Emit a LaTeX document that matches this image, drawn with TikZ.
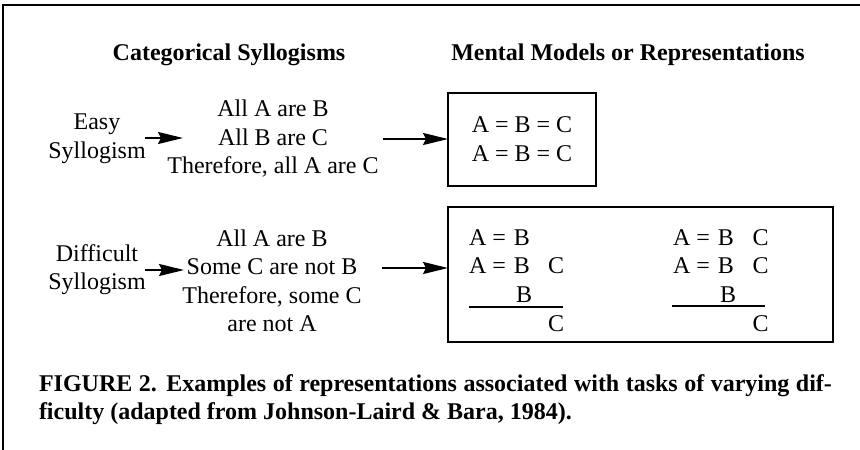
\documentclass[tikz,border=0pt]{standalone}
\usepackage{fontspec}
\setmainfont{Liberation Serif}
\usetikzlibrary{arrows.meta}
\begin{document}
\begin{tikzpicture}[x=1pt,y=-1pt,
  every node/.style={inner sep=0pt,outer sep=0pt,font=\fontsize{24}{28.5}\selectfont},
  head/.style={font=\fontsize{24}{28.5}\selectfont\bfseries},
  lbl/.style={align=center},
  mbox/.style={draw,line width=2pt},
  arr/.style={line width=2pt,-{Stealth[length=25pt,width=12pt,inset=3pt]}},
  rule/.style={line width=2pt}]
\useasboundingbox (0,0) rectangle (860,450);
% frame
\draw[line width=2.5pt] (3,451) -- (3,5) -- (861,5);
% headings
\node[head,anchor=base] (h1) at (229,60) {Categorical Syllogisms};
\node[head,anchor=base] (h2) at (628,60) {Mental Models or Representations};
% easy row
\node[lbl] (easy) at (97,138.5) {Easy\\Syllogism};
\node[lbl] (p1) at (273,139) {All A are B\\All B are C\\Therefore, all A are C};
\node[mbox,minimum width=148pt,minimum height=93pt] (m1) at (522,139.5) {};
\node[lbl] (m1t) at (522,139) {A = B = C\\A = B = C};
\coordinate (e1s) at (145,138);
\coordinate (e1e) at (183,138);
\coordinate (e2s) at (383,139);
\draw[arr] (e1s) -- (e1e);
\draw[arr] (e2s) -- (e2s -| m1.west);
% difficult row
\node[lbl] (diff) at (97,269.5) {Difficult\\Syllogism};
\node[lbl] (p2) at (272,281) {All A are B\\Some C are not B\\Therefore, some C\\are not A};
\node[mbox,minimum width=385pt,minimum height=135pt] (m2) at (640.5,274.5) {};
\coordinate (d1s) at (145,270);
\coordinate (d1e) at (184,270);
\coordinate (d2s) at (382,268);
\draw[arr] (d1s) -- (d1e);
\draw[arr] (d2s) -- (d2s -| m2.west);
% left model
\node[anchor=base west] (l1) at (469,245) {A =\,\,B};
\node[anchor=base west] (l2) at (469,273.5) {A =\,\,B};
\node[anchor=base] (l2c) at (556,273.5) {C};
\node[anchor=base] (l3) at (524,302) {B};
\coordinate (lr1) at (469,306.5);
\coordinate (lr2) at (563,306.5);
\draw[rule] (lr1) -- (lr2);
\node[anchor=base] (l4) at (556,331.5) {C};
% right model
\node[anchor=base west] (r1) at (673,245) {A =\,\,B};
\node[anchor=base] (r1c) at (760.5,245) {C};
\node[anchor=base west] (r2) at (673,273.5) {A =\,\,B};
\node[anchor=base] (r2c) at (760.5,273.5) {C};
\node[anchor=base] (r3) at (728,302) {B};
\coordinate (rr1) at (672,306);
\coordinate (rr2) at (765,306);
\draw[rule] (rr1) -- (rr2);
\node[anchor=base] (r4) at (760.5,331.5) {C};
% caption
\node[head,anchor=base west] (c1) at (39,391.7) {\makebox[793pt][s]{FIGURE 2. Examples of representations associated with tasks of varying dif-}};
\node[head,anchor=base west] (c2) at (39,419.5) {ficulty (adapted from Johnson-Laird \& Bara, 1984).};
\end{tikzpicture}
\end{document}
